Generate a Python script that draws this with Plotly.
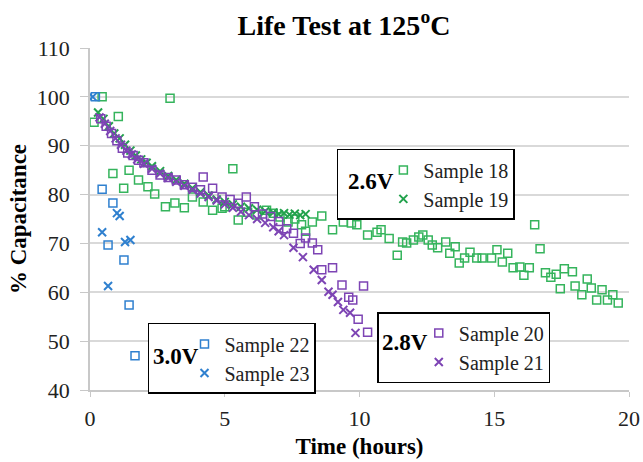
import plotly.graph_objects as go

# Sample 18 (2.6V, squares)
s18_x = [0.15, 0.45, 0.85, 1.05, 1.25, 1.45, 1.8, 2.15, 2.4, 2.8, 2.97, 3.15, 3.5, 3.8, 4.2, 4.55, 4.9, 5.0,
         5.3, 5.5, 5.85, 6.2, 6.55, 6.8, 7.05, 7.35, 7.6, 7.85, 8.0, 8.25, 8.6, 9.0, 9.4, 9.7, 9.9, 10.3, 10.65,
         10.8, 11.1, 11.4, 11.6, 11.75, 12.0, 12.2, 12.35, 12.55, 12.7, 12.9, 13.2, 13.35, 13.55, 13.7, 13.9,
         14.1, 14.35, 14.55, 14.9, 15.1, 15.3, 15.5, 15.7, 15.95, 16.1, 16.3, 16.5, 16.7, 16.9, 17.1, 17.3,
         17.45, 17.6, 17.9, 18.0, 18.25, 18.45, 18.6, 18.8, 19.0, 19.2, 19.4, 19.6]
s18_y = [94.8, 100.0, 84.3, 96.0, 81.3, 85.0, 83.0, 81.6, 80.1, 77.5, 99.7, 78.3, 77.3, 79.5, 78.5, 76.8, 77.2, 77.5,
         85.3, 74.8, 76.4, 75.8, 76.8, 76.2, 75.4, 74.4, 75.0, 73.8, 72.5, 74.4, 75.6, 72.8, 74.4, 74.2, 73.8, 71.7,
         72.3, 72.8, 71.0, 67.6, 70.3, 70.1, 70.7, 71.3, 71.7, 70.7, 69.7, 69.1, 70.3, 68.0, 69.3, 66.0, 67.0,
         68.2, 67.0, 67.0, 67.0, 68.7, 66.2, 68.0, 65.0, 65.2, 63.5, 65.0, 73.8, 68.9, 64.0, 63.1, 63.7,
         60.7, 64.8, 64.2, 61.3, 59.5, 62.7, 60.9, 58.4, 60.5, 58.4, 59.5, 57.8]

# Sample 19 (2.6V, x)
s19_x = [0.3, 0.5, 0.7, 0.9, 1.1, 1.3, 1.5, 1.7, 1.9, 2.1, 2.3, 2.6, 2.9, 3.2, 3.5, 3.8, 4.1, 4.4, 4.7, 5.0,
         5.3, 5.6, 5.9, 6.2, 6.5, 6.8, 7.0, 7.2, 7.4, 7.6, 7.8, 8.0]
s19_y = [96.8, 95.5, 94.0, 92.5, 91.5, 90.2, 89.0, 88.0, 87.2, 86.5, 85.8, 84.8, 83.8, 83.0, 82.2, 81.3, 80.5,
         79.8, 79.0, 78.5, 78.0, 77.5, 77.2, 76.9, 76.6, 76.3, 76.0, 76.2, 75.9, 76.1, 75.8, 76.0]

# Sample 20 (2.8V, squares)
s20_x = [0.4, 0.6, 0.8, 1.0, 1.2, 1.4, 1.6, 1.8, 2.0, 2.3, 2.6, 2.9, 3.2, 3.5, 3.8, 4.1, 4.2, 4.55, 4.9, 5.2,
         5.5, 5.8, 6.1, 6.4, 6.7, 7.0, 7.3, 7.55, 7.8, 8.0, 8.25, 8.45, 8.6, 9.0, 9.35, 9.6, 9.75, 9.95, 10.15, 10.3]
s20_y = [95.5, 94.0, 92.5, 91.0, 89.5, 88.5, 88.0, 87.0, 86.5, 85.0, 84.0, 83.5, 83.0, 82.0, 81.5, 81.0, 83.6,
         81.3, 79.5, 79.0, 78.2, 79.5, 77.5, 76.0, 75.5, 74.5, 73.0, 72.1, 70.0, 71.1, 70.1, 68.7, 64.6, 65.0,
         61.5, 59.0, 58.4, 54.5, 61.3, 51.8]

# Sample 21 (2.8V, x)
s21_x = [0.35, 0.55, 0.75, 0.95, 1.15, 1.35, 1.55, 1.75, 2.0, 2.3, 2.6, 2.9, 3.2, 3.5, 3.8, 4.1, 4.4, 4.7, 5.0,
         5.3, 5.6, 5.9, 6.2, 6.5, 6.8, 7.0, 7.2, 7.55, 7.9, 8.3, 8.6, 8.85, 9.0, 9.2, 9.4, 9.65, 9.85]
s21_y = [95.8, 94.5, 93.0, 91.5, 90.2, 89.0, 88.2, 87.2, 86.3, 85.3, 84.3, 83.4, 82.6, 81.8, 81.0, 80.2, 79.5,
         78.8, 78.0, 77.3, 76.5, 75.8, 75.0, 74.2, 73.3, 72.5, 71.7, 69.1, 67.2, 64.6, 62.5, 60.1, 59.5, 58.0,
         56.4, 55.8, 51.7]

# Sample 22 (3.0V, squares)
s22_x = [0.2, 0.45, 0.67, 0.85, 1.26, 1.45, 1.67]
s22_y = [100.0, 81.1, 69.7, 78.3, 66.6, 57.4, 47.0]

# Sample 23 (3.0V, x)
s23_x = [0.1, 0.45, 0.67, 1.0, 1.1, 1.3, 1.5]
s23_y = [100.0, 72.3, 61.3, 76.2, 75.6, 70.3, 70.7]

group_labels = ["2.6V", "2.8V", "3.0V"]

GREEN = "#35b45c"
GREEN_D = "#22a24c"
PURPLE = "#7d44b4"
BLUE = "#2f80cf"
FONT = "Liberation Serif"

fig = go.Figure()


def sq(x, y, name, color, legend):
    return go.Scatter(x=x, y=y, mode="markers", name=name, legend=legend,
                      marker=dict(symbol="square-open", size=8, color=color, line=dict(width=1.5, color=color)))


def xm(x, y, name, color, legend):
    return go.Scatter(x=x, y=y, mode="markers", name=name, legend=legend,
                      marker=dict(symbol="x-thin", size=8, color=color, line=dict(width=2, color=color)))


fig.add_trace(sq(s18_x, s18_y, "Sample 18", GREEN, "legend"))
fig.add_trace(xm(s19_x, s19_y, "Sample 19", GREEN_D, "legend"))
fig.add_trace(sq(s20_x, s20_y, "Sample 20", PURPLE, "legend2"))
fig.add_trace(xm(s21_x, s21_y, "Sample 21", PURPLE, "legend2"))
fig.add_trace(sq(s22_x, s22_y, "Sample 22", BLUE, "legend3"))
fig.add_trace(xm(s23_x, s23_y, "Sample 23", BLUE, "legend3"))

leg_common = dict(bgcolor="white", bordercolor="black", borderwidth=1.5,
                  font=dict(family=FONT, size=20, color="#222"),
                  xanchor="left", yanchor="top", itemwidth=30, tracegroupgap=0)


def spacer_title(n):
    # reserves room for the group label, which is drawn centred by an annotation
    return dict(text="&nbsp;" * n, side="left", font=dict(family=FONT, size=20, color="black"))


fig.update_layout(
    width=643, height=462,
    margin=dict(l=90, r=14, t=48, b=72),
    plot_bgcolor="white", paper_bgcolor="white",
    title=dict(text="<b>Life Test at 125<sup>o</sup>C</b>", x=0.535, xanchor="center", y=0.946, yanchor="middle",
               font=dict(family=FONT, size=28, color="black")),
    legend=dict(x=0.458, y=0.705, title=spacer_title(7), **leg_common),
    legend2=dict(x=0.533, y=0.228, title=spacer_title(6), **leg_common),
    legend3=dict(x=0.1076, y=0.196, title=spacer_title(5), **leg_common),
    xaxis=dict(range=[0, 20], dtick=5, showgrid=False, zeroline=False, showline=True, linecolor="#c8c8c8",
               linewidth=1.5, ticks="outside", ticklen=5, tickcolor="#c8c8c8", ticklabelstandoff=3,
               automargin=False,
               tickfont=dict(family=FONT, size=22, color="#222"),
               title=dict(text="<b>Time (hours)</b>", font=dict(family=FONT, size=23, color="black"), standoff=8)),
    yaxis=dict(range=[40, 110], dtick=10, showgrid=True, gridcolor="#d9d9d9", gridwidth=1.5, zeroline=False,
               showline=True, linecolor="#c8c8c8", linewidth=1.5, ticks="outside", ticklen=8, tickcolor="#c8c8c8",
               ticklabelstandoff=6, automargin=False,
               tickfont=dict(family=FONT, size=22, color="#222"),
               title=dict(text="<b>% Capacitance</b>", font=dict(family=FONT, size=23, color="black"), standoff=4)),
)

label_pos = [(0.521, 0.611), (0.584, 0.140), (0.160, 0.097)]
for lab, (ax_, ay_) in zip(group_labels, label_pos):
    fig.add_annotation(text="<b>%s</b>" % lab, x=ax_, y=ay_, xref="paper", yref="paper", showarrow=False,
                       xanchor="center", yanchor="middle", font=dict(family=FONT, size=23, color="black"))

fig.write_html("out.html")
